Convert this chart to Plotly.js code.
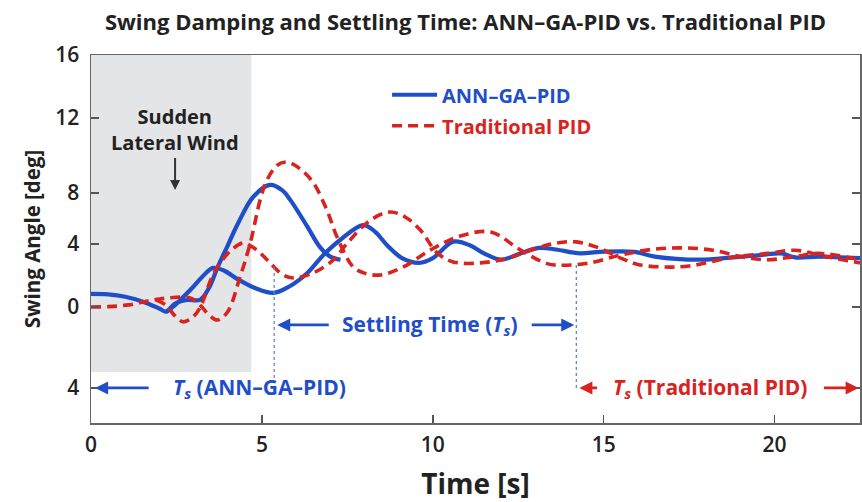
<!DOCTYPE html>
<html>
<head>
<meta charset="utf-8">
<script src="https://cdn.plot.ly/plotly-3.0.1.min.js"></script>
<style>html,body{margin:0;padding:0;background:#fff;}#chart{width:862px;height:502px;}</style>
</head>
<body>
<div id="chart"></div>
<script>
// ---- data (time in s, swing angle) ----
var blueMainT = [0, 0.5, 1.0, 1.5, 2.0, 2.2, 2.45, 2.8, 3.2, 3.45, 3.7, 4.0, 4.3, 4.75, 5.24, 5.6, 5.83, 6.33, 6.7, 7.0, 7.3];
var blueMainV = [0.83, 0.8, 0.65, 0.35, -0.1, -0.3, 0.2, 0.44, 0.47, 1.2, 2.5, 3.9, 5.3, 7.0, 7.75, 7.4, 6.8, 5.1, 3.8, 3.2, 3.0];

var blueEchoT = [2.2, 2.45, 2.7, 3.0, 3.25, 3.57, 3.9, 4.3, 4.8, 5.33, 5.8, 6.33, 6.8, 7.29, 7.96, 8.3, 8.67, 9.1, 9.6, 10.0, 10.6, 11.1, 11.5, 12.0, 12.5, 13.1, 13.6, 14.3, 14.9, 15.9, 16.5, 17.8, 18.8, 19.6, 20.2, 20.6, 21.3, 22.5];
var blueEchoV = [-0.3, 0.1, 0.63, 1.3, 1.9, 2.48, 2.3, 1.75, 1.2, 0.89, 1.3, 2.16, 3.3, 4.25, 5.2, 4.8, 3.9, 3.1, 2.8, 3.1, 4.15, 3.9, 3.4, 3.0, 3.35, 3.75, 3.65, 3.4, 3.5, 3.5, 3.2, 3.0, 3.15, 3.3, 3.4, 3.15, 3.2, 3.1];

var redMainT = [0, 0.5, 1.1, 1.6, 2.0, 2.4, 2.9, 3.2, 3.45, 3.7, 4.0, 4.36, 4.66, 4.95, 5.15, 5.45, 5.74, 6.1, 6.5, 6.9, 7.2, 7.67, 8.0, 8.46, 9.14, 9.93, 10.8, 11.7, 12.56, 13.35, 13.9, 14.6, 15.5, 16.4, 17.3, 18.2, 19.0, 19.8, 20.6, 21.3, 22.5];
var redMainV = [0, 0.02, 0.13, 0.35, 0.5, 0.6, 0.57, 0.1, -0.5, -0.83, -0.3, 1.9, 4.06, 6.8, 8.06, 9.0, 9.2, 8.8, 7.9, 6.16, 4.44, 2.54, 2.15, 2.03, 2.54, 3.62, 4.5, 4.76, 3.62, 2.75, 2.65, 2.8, 3.3, 3.65, 3.75, 3.6, 3.2, 3.0, 3.2, 3.4, 3.0];

var redEchoT = [1.9, 2.2, 2.45, 2.7, 3.0, 3.2, 3.54, 3.78, 4.1, 4.45, 4.8, 5.15, 5.62, 5.92, 6.5, 7.1, 7.5, 8.17, 8.75, 9.2, 9.63, 10.13, 10.6, 11.4, 12.2, 13.0, 13.6, 14.2, 14.8, 15.5, 16.0, 16.7, 17.5, 18.8, 19.8, 20.6, 21.5, 22.5];
var redEchoV = [0.45, 0.1, -0.55, -0.95, -0.6, 0.0, 1.9, 2.8, 3.6, 4.06, 3.7, 3.0, 2.03, 1.84, 2.16, 3.0, 4.06, 5.5, 6.03, 5.7, 4.9, 3.43, 2.86, 2.8, 3.1, 3.7, 4.05, 4.13, 3.8, 3.1, 2.7, 2.54, 2.6, 3.17, 3.4, 3.6, 3.2, 2.8];

var seriesNames = ['ANN\u2013GA\u2013PID', 'Traditional PID'];
var yTickVals = [16, 12, 7.24, 4, 0, -5.14];
var yTickText = ['16', '12', '8', '4', '0', '4'];
var xTickVals = [0, 5, 10, 15, 20];

// ---- styling ----
var BLUE = '#1f4fc8', RED = '#d8231f', DARK = '#222222';
var FONT = 'Open Sans, Noto Sans, sans-serif';

var windEnd = 4.69, settleANN = 5.36, settlePID = 14.2;

var traces = [
  {x: blueMainT, y: blueMainV, mode: 'lines', name: '<b><span style="color:' + BLUE + '">' + seriesNames[0] + '</span></b>',
   legendgroup: 'a', line: {color: BLUE, width: 4.2, shape: 'spline', smoothing: 1}},
  {x: blueEchoT, y: blueEchoV, mode: 'lines', showlegend: false, legendgroup: 'a',
   line: {color: BLUE, width: 4.2, shape: 'spline', smoothing: 1}},
  {x: redMainT, y: redMainV, mode: 'lines', name: '<b><span style="color:' + RED + '">' + seriesNames[1] + '</span></b>',
   legendgroup: 'b', line: {color: RED, width: 3.6, dash: '10px,6px', shape: 'spline', smoothing: 1}},
  {x: redEchoT, y: redEchoV, mode: 'lines', showlegend: false, legendgroup: 'b',
   line: {color: RED, width: 3.6, dash: '10px,6px', shape: 'spline', smoothing: 1}}
];

function arrow(xh, yh, xt, yt, color) {
  return {x: xh, y: yh, ax: xt, ay: yt, xref: 'x', yref: 'y', axref: 'x', ayref: 'y',
          text: '', showarrow: true, arrowhead: 2, arrowsize: 1, arrowwidth: 2.6, arrowcolor: color};
}

var annFont = function (c, s) { return {family: FONT, size: s || 20, color: c}; };

var annotations = [
  {x: 2.46, y: 7.43, ax: 0, ay: -60, text: '<b>Sudden<br>Lateral Wind</b>', showarrow: true,
   arrowhead: 2, arrowsize: 1, arrowwidth: 2, arrowcolor: '#333', font: annFont(DARK, 20), standoff: 0},
  {x: 9.93, y: -1.14, text: '<b>Settling Time (<i>T<sub>s</sub></i>)</b>', showarrow: false, font: annFont(BLUE, 21)},
  arrow(5.45, -1.14, 7.0, -1.14, BLUE),
  arrow(14.14, -1.14, 12.85, -1.14, BLUE),
  {x: 4.92, y: -5.14, text: '<b><i>T<sub>s</sub></i> (ANN\u2013GA\u2013PID)</b>', showarrow: false, font: annFont(BLUE, 21)},
  arrow(0.12, -5.14, 1.73, -5.14, BLUE),
  {x: 18.1, y: -5.14, text: '<b><i>T<sub>s</sub></i> (Traditional PID)</b>', showarrow: false, font: annFont(RED, 21)},
  arrow(14.29, -5.14, 14.85, -5.14, RED),
  arrow(22.46, -5.14, 21.4, -5.14, RED)
];

var shapes = [
  {type: 'rect', xref: 'x', yref: 'y', x0: 0, x1: windEnd, y0: -4.13, y1: 16, fillcolor: '#e4e5e7', line: {width: 0}, layer: 'below'},
  {type: 'line', xref: 'x', yref: 'y', x0: settleANN, x1: settleANN, y0: 2.54, y1: -4.63, line: {color: '#6a86c8', width: 1.3, dash: 'dot'}},
  {type: 'line', xref: 'x', yref: 'y', x0: settlePID, x1: settlePID, y0: 2.67, y1: -5.27, line: {color: '#6a86c8', width: 1.3, dash: 'dot'}}
];

var layout = {
  width: 862, height: 502,
  margin: {l: 91, r: 2, t: 55, b: 79},
  paper_bgcolor: '#ffffff', plot_bgcolor: '#ffffff',
  font: {family: FONT, color: DARK},
  title: {text: '<b>Swing Damping and Settling Time: ANN\u2013GA-PID vs. Traditional PID</b>',
          x: 0.54, xanchor: 'center', y: 0.955, yanchor: 'middle',
          font: {family: FONT, size: 22, color: DARK}},
  xaxis: {range: [0, 22.5], tickvals: xTickVals, ticks: 'inside', ticklen: 8, tickwidth: 1.5, tickcolor: '#555',
          showline: true, linecolor: '#666', linewidth: 1.5, mirror: true, showgrid: false, zeroline: false,
          tickfont: {family: FONT, size: 21, color: DARK}, ticklabelstandoff: 2,
          title: {text: '<b>Time [s]</b>', font: {family: FONT, size: 28, color: DARK}, standoff: 19}},
  yaxis: {range: [-7.37, 16], tickvals: yTickVals, ticktext: yTickText, ticks: 'inside', ticklen: 8, tickwidth: 1.5, tickcolor: '#555',
          showline: true, linecolor: '#666', linewidth: 1.5, mirror: 'ticks', showgrid: false, zeroline: false,
          tickfont: {family: FONT, size: 21, color: DARK}, ticklabelstandoff: 6,
          title: {text: '<b>Swing Angle [deg]</b>', font: {family: FONT, size: 20.5, color: DARK}, standoff: 9}},
  showlegend: true,
  legend: {x: 0.385, y: 0.945, xanchor: 'left', yanchor: 'top', bgcolor: 'rgba(0,0,0,0)',
           font: {family: FONT, size: 20}, traceorder: 'grouped', tracegroupgap: 2, itemwidth: 45},
  shapes: shapes,
  annotations: annotations
};

Plotly.newPlot('chart', traces, layout, {displayModeBar: false, staticPlot: true}).then(function () {
  // tick labels in the reference are semi-bold
  document.querySelectorAll('.xtick text, .ytick text').forEach(function (t) { t.style.fontWeight = '600'; });
});
</script>
</body>
</html>
